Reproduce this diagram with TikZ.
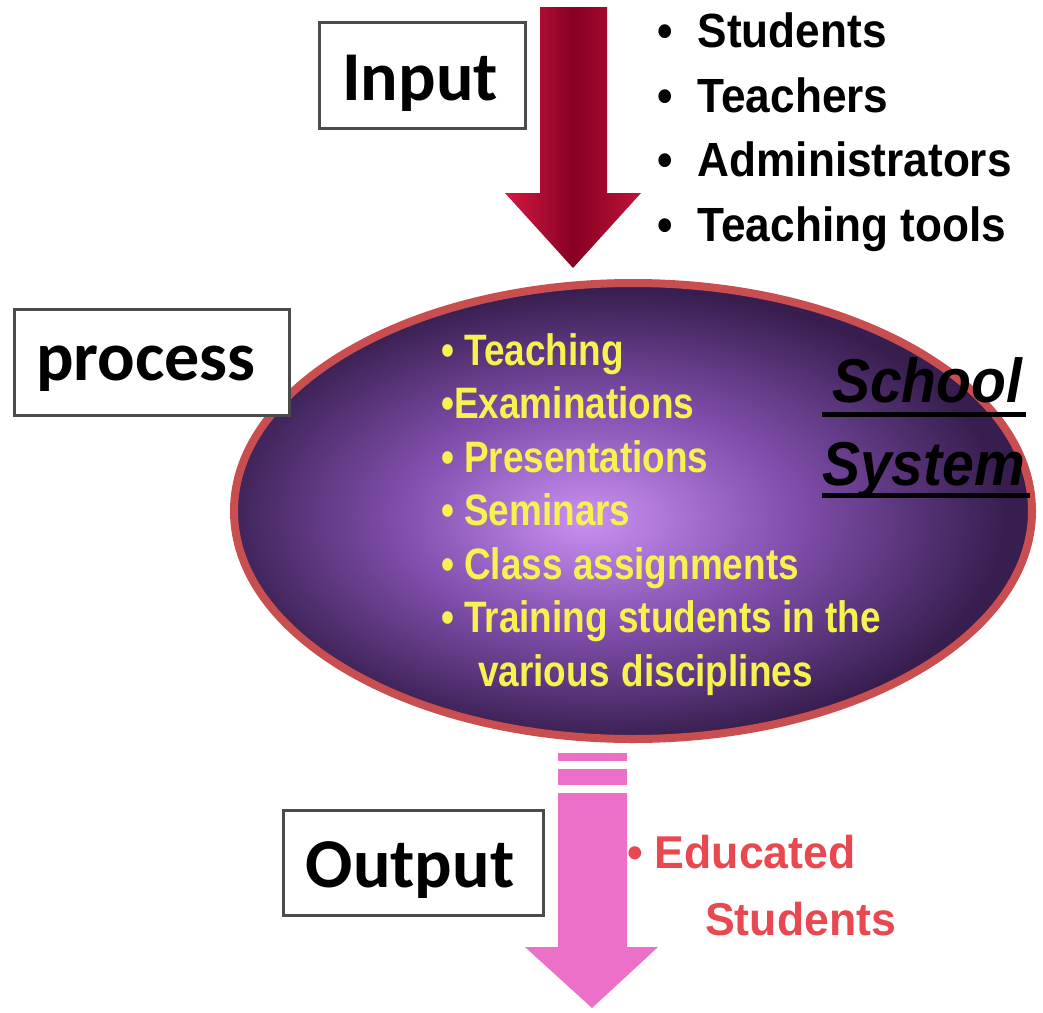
\documentclass[tikz,border=0pt]{standalone}
\usepackage{fontspec}
\setmainfont{Carlito}
\newfontfamily\listfont[FakeStretch=0.92]{Liberation Sans}
\newfontfamily\yelfont[FakeStretch=0.84]{Liberation Sans}
\newfontfamily\schfont[FakeStretch=0.92]{Liberation Sans}
\newfontfamily\outfont[FakeStretch=0.97]{Liberation Sans}
\usetikzlibrary{shapes.geometric}
\definecolor{boxgray}{RGB}{75,75,75}
\definecolor{elcenter}{RGB}{202,144,242}
\definecolor{elmid}{RGB}{130,80,175}
\definecolor{eledge}{RGB}{55,30,78}
\definecolor{elborder}{RGB}{200,78,80}
\definecolor{redL}{RGB}{215,25,65}
\definecolor{redM}{RGB}{135,0,35}
\definecolor{redR}{RGB}{190,20,55}
\definecolor{pinkarrow}{RGB}{236,112,200}
\definecolor{yel}{RGB}{246,242,80}
\definecolor{outred}{RGB}{232,72,80}
\pgfdeclareradialshading{ellsh}{\pgfpoint{-3bp}{-1bp}}{color(0bp)=(elcenter); color(12bp)=(elmid); color(25bp)=(eledge); color(50bp)=(eledge)}
\tikzset{
  lblbox/.style={draw=boxgray, line width=3pt, fill=white, inner sep=0pt},
  lbltext/.style={font=\bfseries\fontsize{70}{80}\selectfont, anchor=base, inner sep=0pt},
  blk/.style={font=\listfont\bfseries\fontsize{48}{56}\selectfont, anchor=base west, inner sep=0pt},
  yl/.style={font=\yelfont\bfseries\fontsize{44}{52}\selectfont, text=yel, anchor=base west, inner sep=0pt},
  sch/.style={font=\schfont\bfseries\itshape\fontsize{62}{70}\selectfont, anchor=base west, inner sep=0pt},
  ored/.style={font=\outfont\bfseries\fontsize{46}{54}\selectfont, text=outred, anchor=base west, inner sep=0pt},
}
\begin{document}
\begin{tikzpicture}[x=1pt,y=-1pt]
\useasboundingbox[fill=white] (0,0) rectangle (1043,1012);

% Input arrow
\coordinate (rtop) at (573,7);
\coordinate (rtip) at (573,268);
\path[left color=redL, right color=redR, middle color=redM]
  (540,7) -- (607,7) -- (607,193) -- (641,193) -- (rtip) -- (505,193) -- (540,193) -- cycle;

% Input box
\node[lblbox, minimum width=206pt, minimum height=106pt] (inbox) at (422,75) {};
\node[lbltext] (intext) at (420,100) {Input};

% input list
\node[blk] (l1) at (657,47) {•\hspace{25pt}Students};
\node[blk] (l2) at (657,112) {•\hspace{25pt}Teachers};
\node[blk] (l3) at (657,176) {•\hspace{25pt}Administrators};
\node[blk] (l4) at (657,241) {•\hspace{25pt}Teaching tools};

% Ellipse
\node[ellipse, minimum width=798pt, minimum height=456pt, draw=elborder, line width=8pt, shading=ellsh] (sys) at (633,511) {};

% process box
\node[lblbox, minimum width=275pt, minimum height=106pt] (prbox) at (152,362) {};
\node[lbltext] (prtext) at (146,380) {process};

% yellow list
\node[yl] (y1) at (441,365) {•\hspace{10pt}Teaching};
\node[yl] (y2) at (441,418) {•Examinations};
\node[yl] (y3) at (441,472) {•\hspace{10pt}Presentations};
\node[yl] (y4) at (441,525) {•\hspace{10pt}Seminars};
\node[yl] (y5) at (441,579) {•\hspace{10pt}Class assignments};
\node[yl] (y6) at (441,632) {•\hspace{10pt}Training students in the};
\node[yl] (y7) at (478,686) {various\hspace{12pt}disciplines};

% School System
\node[sch] (s1) at (832,402) {School};
\node[sch] (s2) at (822,485) {System};
\draw[line width=5pt] (822,414) -- (1026,414);
\draw[line width=5pt] (822,495) -- (1030,495);

% Output arrow
\fill[pinkarrow] (558,753) rectangle (627,761);
\fill[pinkarrow] (558,769) rectangle (627,785);
\coordinate (ptip) at (592,1008);
\fill[pinkarrow] (558,793) -- (627,793) -- (627,947) -- (658,947) -- (ptip) -- (525,947) -- (558,947) -- cycle;

% Output box
\node[lblbox, minimum width=260pt, minimum height=105pt] (outbox) at (413,863) {};
\node[lbltext] (outtext) at (410,887) {Output};

% output text
\node[ored] (o1) at (627,868) {•\hspace{12pt}Educated};
\node[ored] (o2) at (705,935) {Students};
\end{tikzpicture}
\end{document}
